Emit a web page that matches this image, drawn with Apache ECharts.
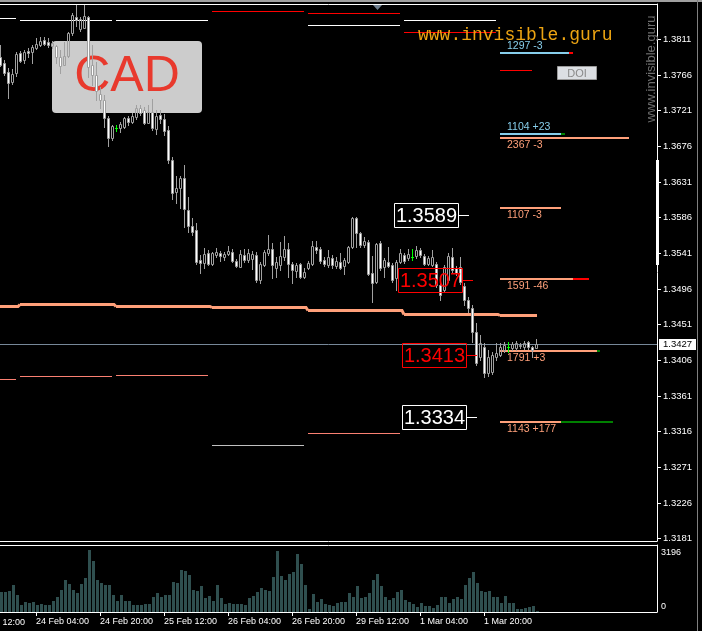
<!DOCTYPE html>
<html><head><meta charset="utf-8">
<script src="https://cdn.jsdelivr.net/npm/echarts@6/dist/echarts.min.js"></script>
<style>html,body{margin:0;padding:0;background:#000;overflow:hidden}#c{width:702px;height:631px}</style>
</head><body><div id="c"></div><script>
// ---------------- DATA ----------------
// hourly bars, index 0 = 23 Feb 19:00
const opens = [1.3789,1.3781,1.3770,1.3757,1.3768,1.3794,1.3785,1.3796,1.3795,1.3800,
1.3804,1.3810,1.3808,1.3803,1.3803,1.3789,1.3779,1.3790,1.3819,1.3839,
1.3824,1.3825,1.3839,1.3779,1.3766,1.3742,1.3734,1.3712,1.3686,1.3699,
1.3699,1.3700,1.3712,1.3707,1.3713,1.3724,1.3722,1.3705,1.3719,1.3698,
1.3715,1.3710,1.3697,1.3659,1.3618,1.3623,1.3636,1.3596,1.3575,1.3570,
1.3532,1.3529,1.3541,1.3527,1.3539,1.3541,1.3536,1.3540,1.3543,1.3531,
1.3524,1.3539,1.3532,1.3534,1.3539,1.3507,1.3526,1.3541,1.3546,1.3522,
1.3526,1.3536,1.3546,1.3527,1.3519,1.3527,1.3511,1.3522,1.3527,1.3549,
1.3546,1.3532,1.3526,1.3535,1.3525,1.3530,1.3525,1.3530,1.3549,1.3585,
1.3567,1.3551,1.3555,1.3516,1.3505,1.3554,1.3524,1.3530,1.3526,1.3510,
1.3530,1.3539,1.3535,1.3536,1.3538,1.3545,1.3538,1.3527,1.3526,1.3527,
1.3501,1.3495,1.3507,1.3536,1.3522,1.3524,1.3500,1.3482,1.3472,1.3442,
1.3410,1.3423,1.3390,1.3391,1.3410,1.3413,1.3419,1.3423,1.3421,1.3421,
1.3424,1.3423,1.3429,1.3423,1.3422];
const highs = [1.3804,1.3785,1.3775,1.3774,1.3795,1.3796,1.3797,1.3800,1.3804,1.3813,
1.3814,1.3814,1.3813,1.3809,1.3804,1.3797,1.3808,1.3820,1.3844,1.3854,
1.3839,1.3854,1.3840,1.3804,1.3782,1.3751,1.3741,1.3714,1.3703,1.3703,
1.3707,1.3713,1.3714,1.3718,1.3728,1.3728,1.3726,1.3728,1.3736,1.3722,
1.3722,1.3717,1.3702,1.3662,1.3639,1.3639,1.3652,1.3612,1.3585,1.3579,
1.3539,1.3548,1.3545,1.3543,1.3548,1.3544,1.3543,1.3550,1.3546,1.3534,
1.3545,1.3546,1.3546,1.3544,1.3543,1.3530,1.3545,1.3564,1.3554,1.3536,
1.3555,1.3563,1.3554,1.3530,1.3529,1.3529,1.3522,1.3531,1.3556,1.3556,
1.3549,1.3536,1.3545,1.3539,1.3536,1.3541,1.3535,1.3550,1.3587,1.3587,
1.3568,1.3562,1.3558,1.3538,1.3554,1.3556,1.3535,1.3549,1.3529,1.3532,
1.3546,1.3541,1.3546,1.3546,1.3550,1.3548,1.3540,1.3538,1.3545,1.3530,
1.3503,1.3526,1.3541,1.3548,1.3525,1.3536,1.3503,1.3486,1.3476,1.3453,
1.3438,1.3428,1.3419,1.3416,1.3428,1.3428,1.3429,1.3429,1.3429,1.3430,
1.3428,1.3430,1.3430,1.3424,1.3433];
const lows = [1.3777,1.3766,1.3737,1.3755,1.3765,1.3782,1.3781,1.3789,1.3781,1.3799,
1.3803,1.3804,1.3801,1.3800,1.3781,1.3768,1.3779,1.3789,1.3816,1.3828,
1.3821,1.3825,1.3763,1.3753,1.3734,1.3724,1.3700,1.3676,1.3684,1.3695,
1.3694,1.3699,1.3703,1.3705,1.3710,1.3715,1.3704,1.3705,1.3697,1.3691,
1.3705,1.3690,1.3655,1.3610,1.3604,1.3598,1.3574,1.3568,1.3564,1.3527,
1.3516,1.3522,1.3526,1.3526,1.3536,1.3531,1.3532,1.3539,1.3530,1.3524,
1.3524,1.3530,1.3530,1.3521,1.3505,1.3503,1.3525,1.3539,1.3510,1.3511,
1.3520,1.3532,1.3511,1.3503,1.3511,1.3510,1.3510,1.3521,1.3526,1.3541,
1.3529,1.3525,1.3524,1.3522,1.3522,1.3521,1.3515,1.3529,1.3548,1.3549,
1.3549,1.3549,1.3514,1.3480,1.3503,1.3520,1.3511,1.3524,1.3505,1.3495,
1.3529,1.3529,1.3532,1.3532,1.3535,1.3536,1.3526,1.3526,1.3525,1.3498,
1.3482,1.3492,1.3505,1.3517,1.3514,1.3502,1.3476,1.3467,1.3429,1.3400,
1.3406,1.3385,1.3386,1.3389,1.3406,1.3411,1.3416,1.3416,1.3419,1.3419,
1.3421,1.3420,1.3420,1.3410,1.3421];
const closes = [1.3779,1.3768,1.3756,1.3767,1.3792,1.3784,1.3795,1.3794,1.3801,1.3805,
1.3809,1.3805,1.3804,1.3806,1.3789,1.3777,1.3790,1.3819,1.3842,1.3835,
1.3837,1.3840,1.3776,1.3766,1.3746,1.3734,1.3712,1.3686,1.3702,1.3699,
1.3704,1.3712,1.3707,1.3714,1.3724,1.3718,1.3705,1.3719,1.3699,1.3714,
1.3710,1.3695,1.3659,1.3617,1.3623,1.3636,1.3597,1.3575,1.3568,1.3530,
1.3529,1.3540,1.3527,1.3541,1.3543,1.3538,1.3540,1.3544,1.3531,1.3525,
1.3540,1.3532,1.3541,1.3540,1.3507,1.3527,1.3543,1.3546,1.3526,1.3530,
1.3538,1.3546,1.3527,1.3520,1.3526,1.3511,1.3517,1.3529,1.3550,1.3545,
1.3531,1.3527,1.3536,1.3526,1.3531,1.3522,1.3532,1.3549,1.3585,1.3567,
1.3551,1.3556,1.3515,1.3503,1.3553,1.3522,1.3532,1.3525,1.3507,1.3530,
1.3541,1.3531,1.3540,1.3536,1.3545,1.3539,1.3527,1.3535,1.3536,1.3501,
1.3488,1.3524,1.3538,1.3520,1.3516,1.3505,1.3482,1.3472,1.3442,1.3403,
1.3428,1.3390,1.3410,1.3413,1.3415,1.3423,1.3425,1.3423,1.3427,1.3428,
1.3425,1.3428,1.3423,1.3419,1.3427];
const volumes = [1031,1031,1067,1376,861,345,516,464,516,345,
397,345,345,552,773,1119,1634,1428,1119,979,
1428,1717,3196,2614,1634,1495,1376,1407,892,552,
861,552,552,345,345,345,397,397,758,979,
758,861,861,1531,1495,2150,2098,1892,1119,1083,
1325,737,809,552,1376,722,428,464,397,397,
397,345,722,809,1031,1253,1119,1083,1804,3129,
1840,1634,1943,2062,2974,2459,1407,170,943,516,
686,397,345,294,464,516,516,979,773,1325,
722,773,979,1634,1943,1325,773,603,722,1031,
1119,634,500,428,258,464,294,294,206,345,
773,773,464,670,773,670,1376,1737,2047,1459,
1083,1031,1067,773,758,479,809,464,464,155,
155,206,242,294,36];

const priceTicks = [1.3181,1.3226,1.3271,1.3316,1.3361,1.3406,1.3451,1.3496,1.3541,1.3586,1.3631,1.3676,1.3721,1.3766,1.3811];
const volumeTicks = [0, 3196];
const timeTickBars = [9,25,41,57,73,89,105,121];
const timeTickLabels = ['24 Feb 04:00','24 Feb 20:00','25 Feb 12:00','26 Feb 04:00','26 Feb 20:00','29 Feb 12:00','1 Mar 04:00','1 Mar 20:00'];
const clippedTickBar = -7, clippedTickLabel = '23 Feb 12:00';
const lastPrice = 1.3427;

// daily levels: [first bar of day, price]; each spans the day's 24 bars
const dayBars = 23;
const whiteLevels = [[-19,1.3838],[5,1.3836],[29,1.3835],[77,1.3829],[101,1.3835]];
const redLevels = [[53,1.3847],[77,1.3844],[101,1.3820]];
const salmonLevels = [[-19,1.3382],[5,1.3386],[29,1.3388],[77,1.3314]];
const grayLevels = [[53,1.3299]];
const pivotDays = [-19,5,29,53,77,101,125];
const pivotValues = [1.3475,1.3477,1.3475,1.3473,1.3469,1.3465,1.3463];
const pivotLastBar = 134.25;

// current-day levels
const levelStart = 125;
const levelPrices = [1.3794,1.3691,1.3687,1.3598,1.3509,1.3418,1.3328];
const levelEnd = [142.25,140.25,157.25,140.25,143.25,149.25,140.25];
const levelExtEnd = [143.25,141.25,157.25,140.25,147.25,150,153.25];
const levelVol = [1297,1104,2367,1107,1591,1791,1143];
const levelDelta = [-3,23,-3,-3,-46,3,177];
const levelKind = ['blue','blue','salmon','salmon','salmon','salmon','salmon'];
const redShort = [[125,133,1.3772]];

// price markers
const markPrices = [1.3589,1.3507,1.3413,1.3334];
const markBars = [114.75,115.75,116.75,116.75];
const markKind = ['white','red','red','white'];

// ---------------- STYLE ----------------
const SANS = '"Liberation Sans", Arial, sans-serif';
const C = {wick:'#a0a0a0', bear:'#ffffff', doji:'#00ff00', vol:'#2f4f4f',
  white:'#ffffff', red:'#ff0000', salmon:'#fa8072', lsalmon:'#ffa07a', blue:'#87ceeb',
  green:'#008000', gray:'#c0c0c0', bid:'#778899'};

function hLine(x1, x2, y, color, w) {
  return {type:'line', shape:{x1:x1, y1:y, x2:x2, y2:y}, style:{stroke:color, lineWidth:w}};
}
function rowY(py, w) { const y = Math.round(py); return (w % 2 === 1) ? y + 0.5 : y; }

function dailyRenderer(color) {
  return function (params, api) {
    const k = api.value(0), v = api.value(1);
    const a = api.coord([k, v]), b = api.coord([k + dayBars, v]);
    return hLine(Math.round(a[0]), Math.round(b[0]), rowY(a[1], 1), color, 1);
  };
}
function dailySeries(data, color) {
  return {type:'custom', xAxisIndex:0, yAxisIndex:0, silent:true, z:3, data:data, renderItem:dailyRenderer(color)};
}

function renderPivot(params, api) {
  const i = params.dataIndex;
  const k = api.value(0), v = api.value(1);
  const a = api.coord([k, v]);
  const y = rowY(a[1], 3);
  const pts = [[Math.round(a[0]), y]];
  if (i < pivotDays.length - 1) {
    const nb = api.coord([pivotDays[i + 1], pivotValues[i + 1]]);
    const ny = rowY(nb[1], 3);
    pts.push([Math.round(nb[0]) - 2, y]);
    pts.push([Math.round(nb[0]), ny]);
  } else {
    const e = api.coord([pivotLastBar, v]);
    pts.push([Math.round(e[0]), y]);
  }
  return {type:'polyline', shape:{points:pts}, style:{stroke:C.lsalmon, lineWidth:3, fill:null}};
}

function renderCandle(params, api) {
  const k = api.value(0), o = api.value(1), h = api.value(2), l = api.value(3), c = api.value(4);
  const po = api.coord([k, o]);
  const x = Math.round(po[0]);
  const yo = Math.round(po[1]);
  const yc = Math.round(api.coord([k, c])[1]);
  const yh = Math.round(api.coord([k, h])[1]);
  const yl = Math.round(api.coord([k, l])[1]);
  const top = Math.min(yo, yc), bot = Math.max(yo, yc);
  const ch = [];
  if (o === c) {
    ch.push({type:'line', shape:{x1:x+0.5, y1:yh, x2:x+0.5, y2:yl+1}, style:{stroke:C.doji, lineWidth:1}});
    ch.push(hLine(x-1, x+2, yo+0.5, C.doji, 1));
  } else {
    ch.push({type:'line', shape:{x1:x+0.5, y1:yh, x2:x+0.5, y2:top+1}, style:{stroke:C.wick, lineWidth:1}});
    ch.push({type:'line', shape:{x1:x+0.5, y1:bot, x2:x+0.5, y2:yl+1}, style:{stroke:C.wick, lineWidth:1}});
    const bull = c > o;
    ch.push({type:'rect', shape:{x:x-0.5, y:top+0.5, width:2, height:Math.max(1, bot-top)},
      style:{fill: bull ? null : C.bear, stroke:C.wick, lineWidth:1}});
  }
  return {type:'group', children:ch};
}

function renderVolume(params, api) {
  const k = api.value(0), v = api.value(1);
  const p = api.coord([k, v]), b = api.coord([k, 0]);
  const x = Math.round(p[0]), yt = Math.round(p[1]), yb = Math.round(b[1]);
  return {type:'rect', shape:{x:x, y:yt, width:3, height:Math.max(0, yb-yt)}, style:{fill:C.vol}};
}

function renderLevel(params, api) {
  const i = params.dataIndex;
  const s = api.value(0), e = api.value(1), ee = api.value(2), v = api.value(3);
  const a = api.coord([s, v]), b = api.coord([e, v]), c = api.coord([ee, v]);
  const y = rowY(a[1], 2);
  const x0 = Math.round(a[0]), x1 = Math.round(b[0]), x2 = Math.round(c[0]);
  const col = levelKind[i] === 'blue' ? C.blue : C.lsalmon;
  const ch = [hLine(x0, x1, y, col, 2)];
  if (x2 > x1) ch.push(hLine(x1, x2, y, levelDelta[i] < 0 ? C.red : C.green, 2));
  const d = levelDelta[i];
  const txt = levelVol[i] + ' ' + (d > 0 ? '+' : '') + d;
  const above = levelKind[i] === 'blue';
  ch.push({type:'text', style:{text:txt, x:x0+7, y: above ? y-7 : y+7, fill:col,
    font:'10.5px ' + SANS, align:'left', verticalAlign:'middle', textAlign:'left', textVerticalAlign:'middle'}});
  return {type:'group', children:ch};
}

function renderRedShort(params, api) {
  const a = api.coord([api.value(0), api.value(2)]), b = api.coord([api.value(1), api.value(2)]);
  return hLine(Math.round(a[0]), Math.round(b[0]), rowY(a[1], 1), C.red, 1);
}

function renderMark(params, api) {
  const i = params.dataIndex;
  const p = api.coord([api.value(0), api.value(1)]);
  const x0 = Math.round(p[0]), y = Math.round(p[1]);
  const col = markKind[i] === 'red' ? C.red : C.white;
  return {type:'group', children:[
    hLine(x0, x0+10, y+0.5, col, 1),
    {type:'rect', shape:{x:x0-64.5, y:y-11.5, width:64, height:24}, style:{fill:null, stroke:col, lineWidth:1}},
    {type:'text', style:{text:api.value(1).toFixed(4), x:x0-32.5, y:y+1, fill:col, font:'20px ' + SANS,
      align:'center', verticalAlign:'middle', textAlign:'center', textVerticalAlign:'middle'}}
  ]};
}

function renderBid(params, api) {
  const cs = params.coordSys;
  const p = api.coord([0, api.value(1)]);
  const y = Math.round(p[1]);
  return {type:'group', children:[
    hLine(cs.x, cs.x + cs.width, y+0.5, C.bid, 1),
    {type:'rect', shape:{x:cs.x + cs.width + 2, y:y-5, width:37, height:11}, style:{fill:'#ffffff'}},
    {type:'text', style:{text:api.value(1).toFixed(4), x:cs.x + cs.width + 20.5, y:y+0.5, fill:'#000', font:'9.5px ' + SANS,
      align:'center', verticalAlign:'middle', textAlign:'center', textVerticalAlign:'middle'}}
  ]};
}

function renderClippedTick(params, api) {
  const p = api.coord([api.value(0), 0]);
  const x = Math.round(p[0]), y = Math.round(p[1]);
  return {type:'group', children:[
    {type:'line', shape:{x1:x+0.5, y1:y, x2:x+0.5, y2:y+4}, style:{stroke:'#fff', lineWidth:1}},
    {type:'text', style:{text:clippedTickLabel, x:x, y:y+6, fill:'#fff', font:'9px ' + SANS,
      align:'left', verticalAlign:'top', textAlign:'left', textVerticalAlign:'top'}}
  ]};
}

// symbol badge drawn beneath the candles
function renderBadge(params, api) {
  return {type:'group', children:[
    {type:'rect', shape:{x:52, y:41, width:150, height:72, r:4}, style:{fill:'#cccccc'}},
    {type:'text', style:{text:'CAD', x:127, y:77, fill:'#e8392d', font:'50px ' + SANS,
      align:'center', verticalAlign:'middle', textAlign:'center', textVerticalAlign:'middle'}}
  ]};
}

const candleData = opens.map((o, i) => [i, o, highs[i], lows[i], closes[i]]);
const volumeData = volumes.map((v, i) => [i, v]);
const levelData = levelPrices.map((p, i) => [levelStart, levelEnd[i], levelExtEnd[i], p]);
const markData = markPrices.map((p, i) => [markBars[i], p]);
const pivotData = pivotDays.map((d, i) => [d, pivotValues[i]]);

const xBase = {type:'value', min:0, max:164.25, splitLine:{show:false}, axisTick:{show:false}, axisLabel:{show:false},
  axisLine:{show:true, onZero:false, lineStyle:{color:'#fff', width:1}}};

const option = {
  backgroundColor:'#000',
  animation:false,
  textStyle:{fontFamily:SANS},
  grid:[
    {left:0, right:45, top:4, bottom:90, outerBoundsMode:'none', containLabel:false},
    {left:0, right:45, top:545, bottom:19, outerBoundsMode:'none', containLabel:false}
  ],
  xAxis:[
    Object.assign({}, xBase, {gridIndex:0, position:'bottom'}),
    Object.assign({}, xBase, {gridIndex:0, position:'top'}),
    Object.assign({}, xBase, {gridIndex:1, position:'top'}),
    Object.assign({}, xBase, {gridIndex:1, position:'bottom',
      axisTick:{show:true, length:4, inside:false, customValues:timeTickBars, lineStyle:{color:'#fff'}},
      axisLabel:{show:true, customValues:timeTickBars, color:'#fff', fontSize:9, fontFamily:SANS, align:'left', margin:5,
        formatter:function (v) { const i = timeTickBars.indexOf(Math.round(v)); return i >= 0 ? timeTickLabels[i] : ''; }}})
  ],
  yAxis:[
    {gridIndex:0, type:'value', position:'right', min:1.31779, max:1.38556, splitLine:{show:false},
      axisLine:{show:true, onZero:false, lineStyle:{color:'#fff'}},
      axisTick:{show:true, length:4, inside:false, customValues:priceTicks, lineStyle:{color:'#fff'}},
      axisLabel:{show:true, customValues:priceTicks, color:'#fff', fontSize:9.5, fontFamily:SANS, margin:6,
        formatter:function (v) { return v.toFixed(4); }}},
    {gridIndex:1, type:'value', position:'right', min:0, max:3428, splitLine:{show:false},
      axisLine:{show:true, onZero:false, lineStyle:{color:'#fff'}},
      axisTick:{show:false},
      axisLabel:{show:true, customValues:volumeTicks, color:'#fff', fontSize:9, fontFamily:SANS, margin:4,
        formatter:function (v) { return v > 0 ? '{t|' + v + '}' : '{b|' + v + '}'; },
        rich:{t:{color:'#fff', fontSize:9, padding:[5,0,0,0]}, b:{color:'#fff', fontSize:9, padding:[0,0,10,0]}}}}
  ],
  graphic:[
    {type:'rect', z:100, silent:true, shape:{x:0, y:0, width:702, height:2}, style:{fill:'#a0a0a0'}},
    {type:'rect', z:100, silent:true, shape:{x:697, y:0, width:1, height:631}, style:{fill:'#808080'}},
    {type:'text', z:100, silent:true, x:418, y:35, style:{text:'www.invisible.guru', fill:'#eda412', font:'18px "Liberation Mono", "DejaVu Sans Mono", monospace',
      align:'left', verticalAlign:'middle', textAlign:'left', textVerticalAlign:'middle'}},
    {type:'text', z:100, silent:true, x:651, y:69, rotation:Math.PI/2, style:{text:'www.invisible.guru', fill:'#6e6e6e', font:'13px ' + SANS,
      align:'center', verticalAlign:'middle', textAlign:'center', textVerticalAlign:'middle'}},
    {type:'rect', z:100, silent:true, shape:{x:557.5, y:66.5, width:39, height:13}, style:{fill:'#dcdfe3', stroke:'#9a9a9a', lineWidth:1}},
    {type:'text', z:101, silent:true, x:577, y:73.5, style:{text:'DOI', fill:'#8a8a8a', font:'11px ' + SANS,
      align:'center', verticalAlign:'middle', textAlign:'center', textVerticalAlign:'middle'}},
    {type:'polygon', z:100, silent:true, shape:{points:[[373,5],[382,5],[377.5,10]]}, style:{fill:'#708090'}},
    {type:'rect', z:100, silent:true, shape:{x:656, y:160, width:3, height:105}, style:{fill:'#ffffff'}}
  ],
  series:[
    {type:'custom', xAxisIndex:0, yAxisIndex:0, silent:true, z:1, data:[[0, 1.35]], renderItem:renderBadge},
    dailySeries(whiteLevels, C.white),
    dailySeries(redLevels, C.red),
    dailySeries(salmonLevels, C.salmon),
    dailySeries(grayLevels, C.gray),
    {type:'custom', xAxisIndex:0, yAxisIndex:0, silent:true, z:3, data:pivotData, renderItem:renderPivot},
    {type:'custom', xAxisIndex:0, yAxisIndex:0, silent:true, z:3, data:redShort, renderItem:renderRedShort},
    {type:'custom', xAxisIndex:0, yAxisIndex:0, silent:true, z:3, data:levelData, renderItem:renderLevel},
    {type:'custom', xAxisIndex:0, yAxisIndex:0, silent:true, z:4, data:[[0, lastPrice]], renderItem:renderBid},
    {type:'custom', xAxisIndex:0, yAxisIndex:0, silent:true, z:5, data:candleData, renderItem:renderCandle},
    {type:'custom', xAxisIndex:0, yAxisIndex:0, silent:true, z:6, data:markData, renderItem:renderMark},
    {type:'custom', xAxisIndex:3, yAxisIndex:1, silent:true, z:3, data:volumeData, renderItem:renderVolume},
    {type:'custom', xAxisIndex:3, yAxisIndex:1, silent:true, z:3, data:[[clippedTickBar, 0]], renderItem:renderClippedTick}
  ]
};
const chart = echarts.init(document.getElementById('c'), null, {renderer:'canvas', devicePixelRatio:1});
chart.setOption(option);
</script></body></html>
